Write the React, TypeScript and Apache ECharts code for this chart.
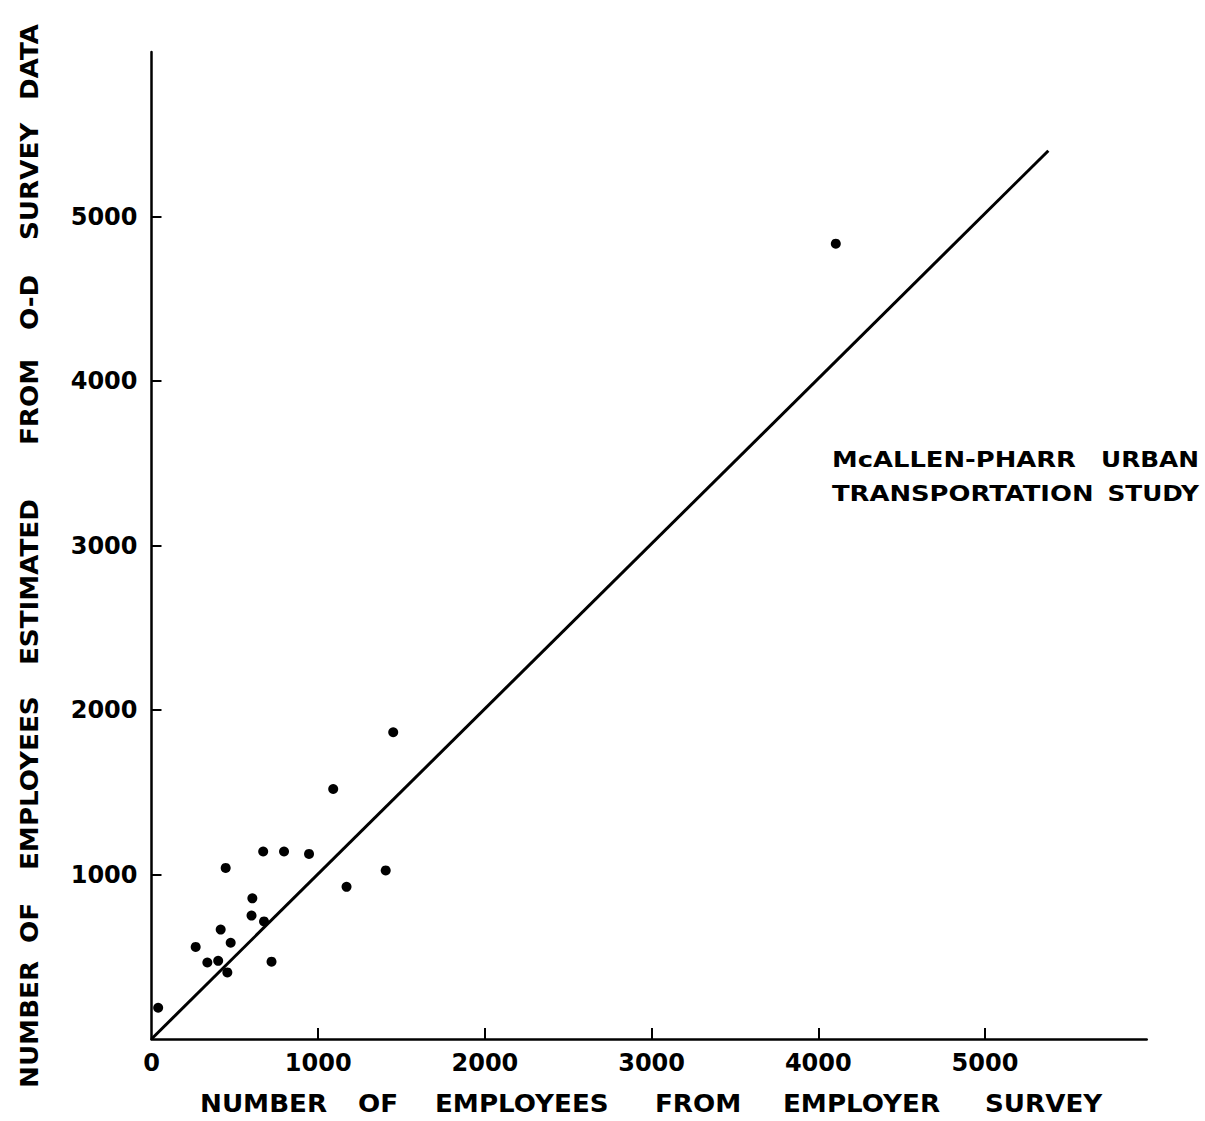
import React, { useEffect, useRef } from "react";
import * as echarts from "echarts";

// Employer survey (x) vs O-D survey estimate (y)
const employerSurvey = [40, 265, 335, 400, 455, 415, 475, 445, 600, 605, 675, 720, 670, 795, 945, 1170, 1405, 1090, 1450, 4105];
const odSurvey = [190, 560, 465, 475, 405, 665, 585, 1040, 750, 855, 715, 470, 1140, 1140, 1125, 925, 1025, 1520, 1865, 4835];

// Reference line (equality line as drawn)
const lineX = [0, 5380];
const lineY = [0, 5400];

const xTickLabels = [0, 1000, 2000, 3000, 4000, 5000];
const yTickLabels = [1000, 2000, 3000, 4000, 5000];

const xTitleWords = ["NUMBER", "OF", "EMPLOYEES", "FROM", "EMPLOYER", "SURVEY"];
const yTitleWords = ["NUMBER", "OF", "EMPLOYEES", "ESTIMATED", "FROM", "O-D", "SURVEY", "DATA"];
const noteLines = [["McALLEN-PHARR", "URBAN"], ["TRANSPORTATION", "STUDY"]];

const FONT = "'DejaVu Sans', 'Liberation Sans', sans-serif";

export default function App() {
  const ref = useRef<HTMLDivElement>(null);
  useEffect(() => {
    if (!ref.current) return;
    const chart = echarts.init(ref.current, null, { renderer: "svg" });

    const points = employerSurvey.map((x, i) => [x, odSurvey[i]]);
    const line = lineX.map((x, i) => [x, lineY[i]]);

    const xWordPos = [200, 358, 435, 655, 783, 985];
    const yWordPos = [1088, 943, 870, 665, 445, 330, 240, 100];

    const graphics: any[] = [];
    xTitleWords.forEach((w, i) => {
      graphics.push({
        type: "text",
        x: xWordPos[i],
        y: 1104,
        scaleX: 1.09,
        style: { text: w, font: `bold 24px ${FONT}`, fill: "#000", align: "left", verticalAlign: "middle" },
      });
    });
    yTitleWords.forEach((w, i) => {
      graphics.push({
        type: "text",
        x: 30,
        y: yWordPos[i],
        rotation: Math.PI / 2,
        scaleX: 1.09,
        style: { text: w, font: `bold 24px ${FONT}`, fill: "#000", align: "left", verticalAlign: "middle" },
      });
    });
    const noteX = [[832, 1199], [832, 1199]];
    const noteY = [460, 494];
    noteLines.forEach((ln, r) => {
      ln.forEach((w, c) => {
        graphics.push({
          type: "text",
          x: noteX[r][c],
          y: noteY[r],
          scaleX: c === 0 ? 1.23 : 1.18,
          style: {
            text: w,
            font: `bold 21px ${FONT}`,
            fill: "#000",
            align: c === 0 ? "left" : "right",
            verticalAlign: "middle",
          },
        });
      });
    });

    chart.setOption({
      animation: false,
      backgroundColor: "#fff",
      grid: { left: 151.5, top: 52, right: 58.3, bottom: 82, containLabel: false },
      xAxis: {
        type: "value",
        min: 0,
        max: 5970,
        interval: 1000,
        axisLine: { show: true, onZero: false, lineStyle: { color: "#000", width: 2.5 } },
        axisTick: { show: true, inside: true, length: 11, lineStyle: { color: "#000", width: 2 }, customValues: [1000, 2000, 3000, 4000, 5000] },
        axisLabel: {
          show: true,
          customValues: xTickLabels,
          formatter: (v: number) => String(v),
          color: "#000",
          fontSize: 24,
          fontWeight: "bold",
          fontFamily: FONT,
          margin: 12,
        },
        splitLine: { show: false },
      },
      yAxis: {
        type: "value",
        min: 0,
        max: 6000,
        interval: 1000,
        axisLine: { show: true, onZero: false, lineStyle: { color: "#000", width: 2.5 } },
        axisTick: { show: true, inside: true, length: 10, lineStyle: { color: "#000", width: 2 }, customValues: yTickLabels },
        axisLabel: {
          show: true,
          customValues: yTickLabels,
          formatter: (v: number) => String(v),
          color: "#000",
          fontSize: 24,
          fontWeight: "bold",
          fontFamily: FONT,
          margin: 14,
        },
        splitLine: { show: false },
      },
      graphic: graphics,
      series: [
        {
          type: "line",
          data: line,
          symbol: "none",
          lineStyle: { color: "#000", width: 3 },
          silent: true,
        },
        {
          type: "scatter",
          data: points,
          symbol: "circle",
          symbolSize: 10,
          itemStyle: { color: "#000", opacity: 1 },
        },
      ],
    });
    return () => chart.dispose();
  }, []);
  return (
    <div
      ref={ref}
      style={{ position: "fixed", left: 0, top: 0, width: 1205, height: 1121, background: "#fff" }}
    />
  );
}
